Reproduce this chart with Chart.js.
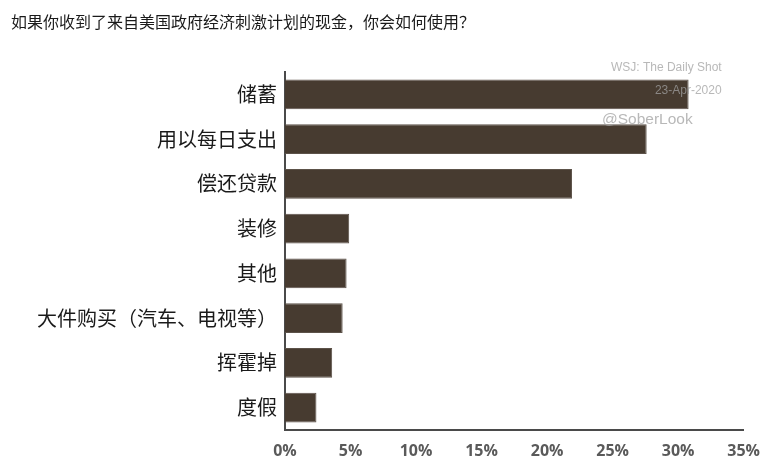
<!DOCTYPE html>
<html>
<head>
<meta charset="utf-8">
<script src="https://cdn.jsdelivr.net/npm/chart.js@4.4.0/dist/chart.umd.min.js"></script>
<style>
    html, body { margin: 0; padding: 0; background: #fff; }
</style>
</head>
<body>
<canvas id="cashChart" width="772" height="468"></canvas>
<script>
const titleText = '如果你收到了来自美国政府经济刺激计划的现金，你会如何使用？';
const categories = ['储蓄', '用以每日支出', '偿还贷款', '装修', '其他', '大件购买（汽车、电视等）', '挥霍掉', '度假'];
const shares = [30.8, 27.6, 21.9, 4.9, 4.7, 4.4, 3.6, 2.4];
const xTicks = [0, 5, 10, 15, 20, 25, 30, 35];
const sourceLines = ['WSJ: The Daily Shot', '23-Apr-2020'];
const handle = '@SoberLook';

// Draws the title and the source watermark on top of the bars
const overlayText = {
    id: 'overlayText',
    afterDraw(chart) {
        const ctx = chart.ctx;
        const area = chart.chartArea;
        ctx.save();
        ctx.fillStyle = '#1a1a1a';
        ctx.font = '16px "Noto Sans CJK SC"';
        ctx.textBaseline = 'middle';
        ctx.textAlign = 'left';
        ctx.fillText(titleText, 11, 22);

        ctx.fillStyle = 'rgba(160, 160, 160, 0.75)';
        ctx.font = '12px "Liberation Sans"';
        ctx.textAlign = 'right';
        ctx.fillText(sourceLines[0], area.right - 22, 68);
        ctx.fillText(sourceLines[1], area.right - 22, 91);
        ctx.font = '15.5px "Liberation Sans"';
        ctx.textAlign = 'left';
        ctx.fillText(handle, area.left + 317, 120);
        ctx.restore();
    }
};

const ctx = document.getElementById('cashChart').getContext('2d');
new Chart(ctx, {
    type: 'bar',
    data: {
        labels: categories,
        datasets: [{
            data: shares,
            backgroundColor: '#473b30',
            borderColor: '#5c5249',
            borderWidth: 1,
            categoryPercentage: 0.66,
            barPercentage: 1
        }]
    },
    options: {
        indexAxis: 'y',
        responsive: false,
        animation: false,
        layout: {
            padding: { top: 72, right: 25, bottom: 0, left: 10 }
        },
        plugins: {
            legend: { display: false },
            tooltip: { enabled: false }
        },
        scales: {
            x: {
                min: xTicks[0],
                max: xTicks[xTicks.length - 1],
                afterBuildTicks: axis => {
                    axis.ticks = xTicks.map(v => ({ value: v }));
                },
                afterFit: axis => { axis.height = 38; },
                grid: { display: false, drawTicks: false },
                border: { display: true, color: '#4a4a4a', width: 2 },
                ticks: {
                    padding: 12,
                    color: '#5a5a5a',
                    font: { family: '"Open Sans"', size: 16, weight: 'bold' },
                    callback: v => v + '%'
                }
            },
            y: {
                afterFit: axis => { axis.width = 275; },
                grid: { display: false, drawTicks: false },
                border: { display: true, color: '#4a4a4a', width: 2 },
                ticks: {
                    padding: 8,
                    color: '#1a1a1a',
                    font: { family: '"Noto Sans CJK SC"', size: 20 }
                }
            }
        }
    },
    plugins: [overlayText]
});
</script>
</body>
</html>
